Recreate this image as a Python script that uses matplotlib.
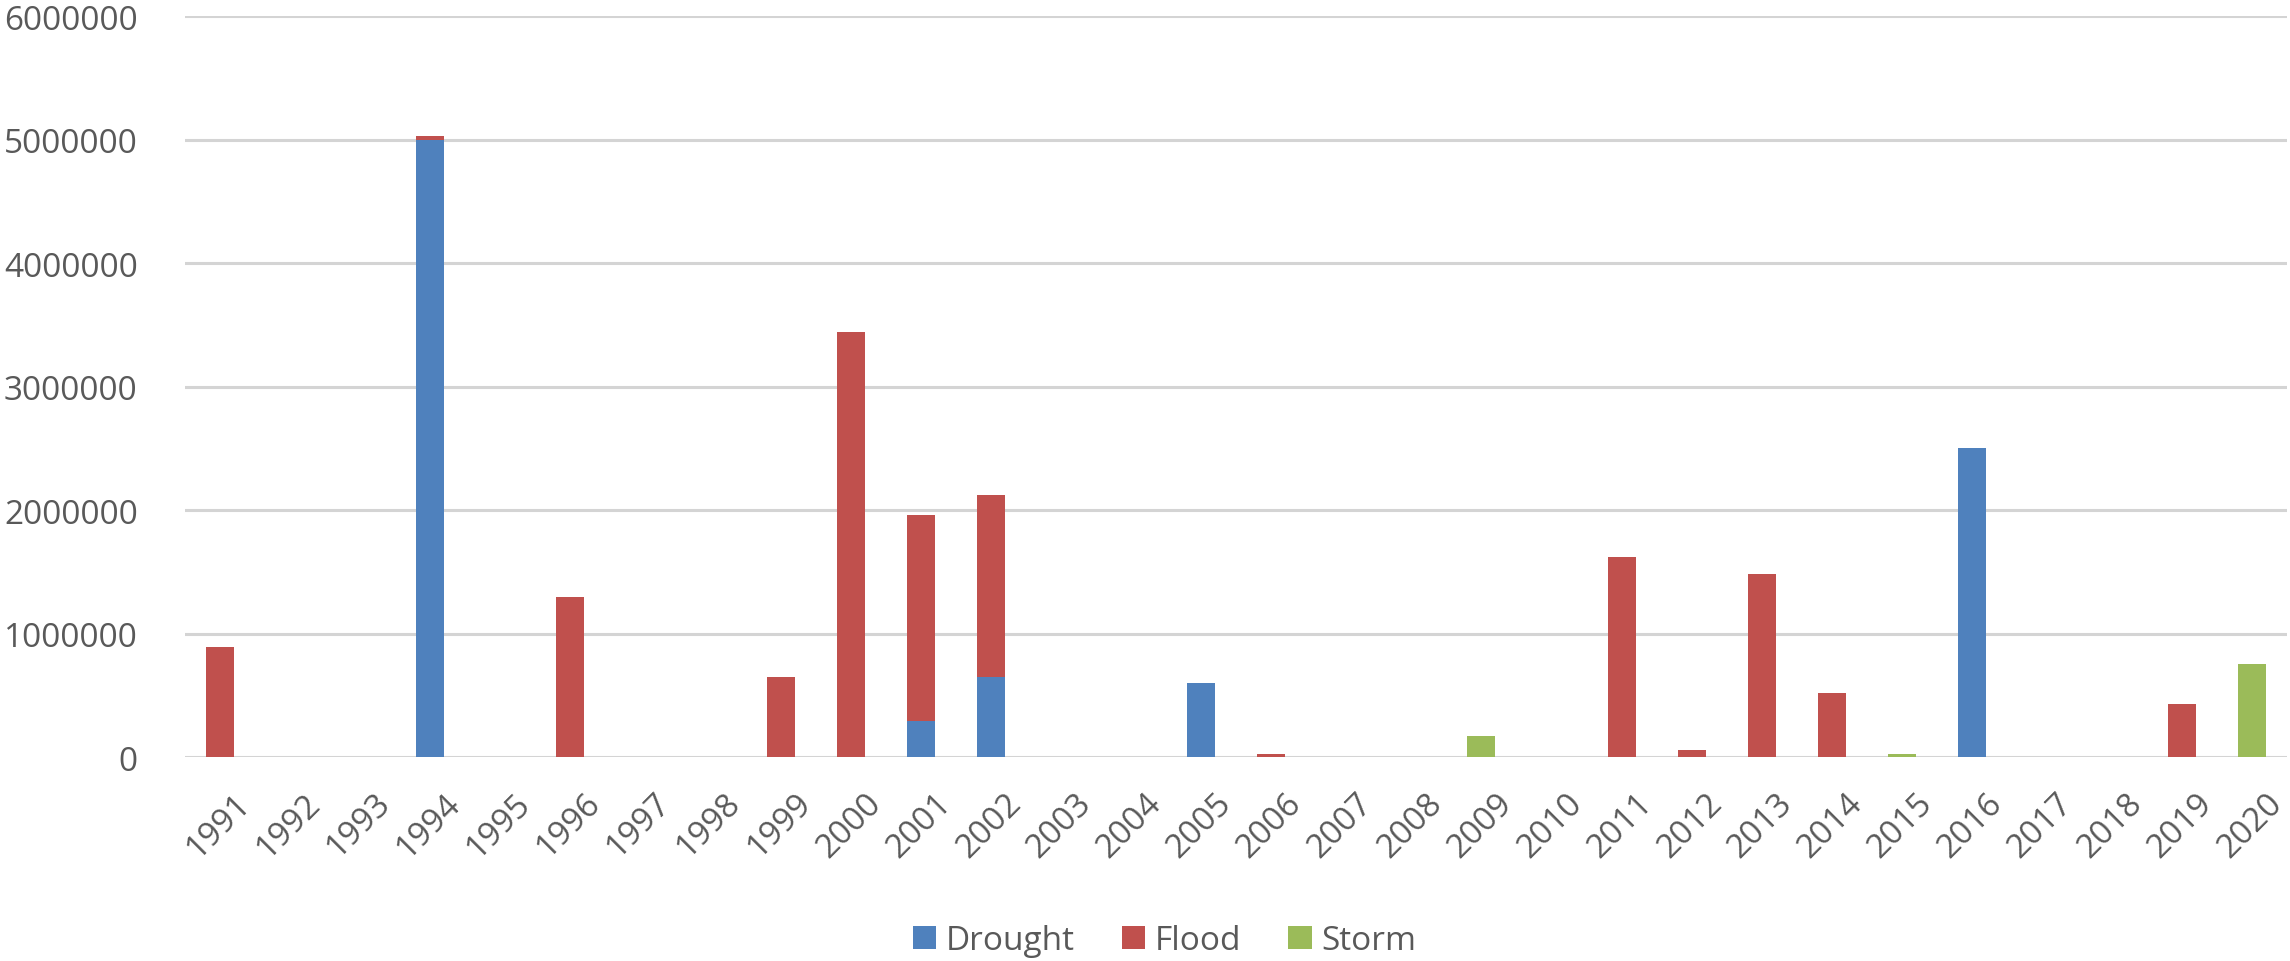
import numpy as np
import matplotlib.pyplot as plt
from matplotlib.transforms import ScaledTranslation

# values
years = [str(y) for y in range(1991, 2021)]
drought = [0, 0, 0, 5000000, 0, 0, 0, 0, 0, 0,
           290000, 650000, 0, 0, 600000, 0, 0, 0, 0, 0,
           0, 0, 0, 0, 0, 2500000, 0, 0, 0, 0]
flood = [890000, 0, 0, 30000, 0, 1300000, 0, 0, 650000, 3440000,
         1670000, 1470000, 0, 0, 0, 25000, 0, 0, 0, 0,
         1620000, 60000, 1480000, 520000, 0, 0, 0, 0, 430000, 0]
storm = [0, 0, 0, 0, 0, 0, 0, 0, 0, 0,
         0, 0, 0, 0, 0, 0, 0, 0, 170000, 0,
         0, 0, 0, 0, 25000, 0, 0, 0, 0, 750000]

c_drought = '#4F81BD'
c_flood = '#C0504D'
c_storm = '#9BBB59'
txt = '#595959'

plt.rcParams['font.family'] = ['Open Sans', 'DejaVu Sans']

fig = plt.figure(figsize=(22.9, 9.62), dpi=100)
ax = fig.add_axes([0.0808, 0.212, 0.918, 0.770])

x = np.arange(len(years))
d = np.array(drought)
f = np.array(flood)
s = np.array(storm)
w = 0.4
ax.bar(x, d, w, color=c_drought, label='Drought', zorder=3)
ax.bar(x, f, w, bottom=d, color=c_flood, label='Flood', zorder=3)
ax.bar(x, s, w, bottom=d + f, color=c_storm, label='Storm', zorder=3)

ax.set_xlim(-0.5, len(years) - 0.5)
ax.set_ylim(0, 6000000)
ax.set_yticks(range(0, 6000001, 1000000))
ax.set_yticklabels([str(v) for v in range(0, 6000001, 1000000)])
ax.yaxis.grid(True, color='#D4D4D4', linewidth=2.2)
ax.set_axisbelow(True)
for sp in ax.spines.values():
    sp.set_visible(False)
ax.tick_params(axis='y', length=0, pad=34, labelsize=24, labelcolor=txt)
ax.tick_params(axis='x', length=0, labelsize=24, labelcolor=txt)

ax.set_xticks(x)
ax.set_xticklabels(years, rotation=45, ha='right', rotation_mode='anchor')
offset = ScaledTranslation(0.14, -0.24, fig.dpi_scale_trans)
for lab in ax.get_xticklabels():
    lab.set_transform(lab.get_transform() + offset)

ax.legend(loc='center', bbox_to_anchor=(0.466, -0.248), ncol=3, frameon=False,
          fontsize=24, labelcolor=txt, handlelength=0.7, handleheight=0.7,
          handletextpad=0.3, columnspacing=1.4)

fig.savefig('out.png', dpi=100)
